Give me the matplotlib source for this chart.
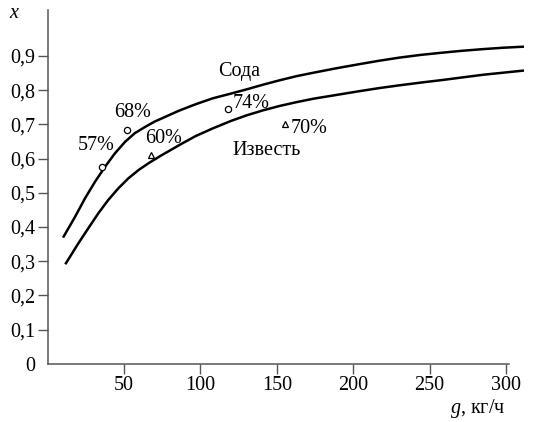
import numpy as np
import matplotlib.pyplot as plt

plt.rcParams['font.family'] = ['Liberation Serif', 'DejaVu Serif']
plt.rcParams['mathtext.fontset'] = 'custom'
plt.rcParams['mathtext.it'] = 'Liberation Serif:italic'
plt.rcParams['mathtext.rm'] = 'Liberation Serif'

# curves: g (kg/h) -> x
soda_g = [10.5, 18, 24.5, 31, 37.6, 44, 50.7, 57, 64, 70, 77, 86, 97, 108, 120, 130,
          141, 152, 163, 174, 189, 204, 217, 230, 244, 257, 271, 285, 298, 311]
soda_x = [0.372, 0.430, 0.484, 0.532, 0.576, 0.615, 0.649, 0.674, 0.693, 0.708,
          0.722, 0.740, 0.759, 0.776, 0.790, 0.802, 0.816, 0.829, 0.841, 0.851, 0.864,
          0.876, 0.886, 0.895, 0.903, 0.909, 0.915, 0.920, 0.924, 0.927]
lime_g = [12, 20.1, 26.6, 33.2, 39.7, 46.3, 52.8, 59.4, 65.9, 74.7, 88, 97, 108,
          120, 130, 141, 152, 163, 174, 189, 204, 217, 230, 244, 259, 271, 285, 298, 311]
lime_x = [0.294, 0.352, 0.396, 0.440, 0.479, 0.513, 0.542, 0.566, 0.586, 0.610,
          0.644, 0.666, 0.688, 0.710, 0.726, 0.741, 0.754, 0.765, 0.775, 0.786, 0.797,
          0.806, 0.814, 0.822, 0.830, 0.837, 0.845, 0.851, 0.857]

# experimental points
circ_g = [35.6, 51.8, 118.3]
circ_x = [0.575, 0.683, 0.744]
tri_g = [67.7, 155.4]
tri_x = [0.610, 0.700]

# point labels (text, g, x)
labels = [("57%", 31.7, 0.639), ("68%", 55.9, 0.736), ("60%", 76.2, 0.660),
          ("74%", 133.4, 0.762), ("70%", 171.0, 0.689),
          ("Сода", 125.3, 0.856), ("Известь", 143.6, 0.625)]

xticks = [50, 100, 150, 200, 250, 300]
yticks = [0, 0.1, 0.2, 0.3, 0.4, 0.5, 0.6, 0.7, 0.8, 0.9]
ytick_labels = ["0", "0,1", "0,2", "0,3", "0,4", "0,5", "0,6", "0,7", "0,8", "0,9"]

fig = plt.figure(figsize=(5.43, 4.22), dpi=100)
ax = fig.add_axes([0.0877, 0.138, 0.8497, 0.838])

ax.plot(soda_g, soda_x, color='black', lw=1.8, clip_on=False)
ax.plot(lime_g, lime_x, color='black', lw=1.8, clip_on=False)
ax.plot(circ_g, circ_x, 'o', mfc='white', mec='black', ms=4.5, mew=0.9, clip_on=False)
ax.plot(tri_g, tri_x, '^', mfc='white', mec='black', ms=4.5, mew=0.9, clip_on=False)

for txt, gx, xx in labels:
    ax.text(gx, xx, txt, ha='center', va='center', fontsize=14.5, clip_on=False)

ax.set_xlim(0, 302)
ax.set_ylim(0, 1.034)
ax.set_xticks(xticks)
ax.set_xticklabels([str(t) for t in xticks])
ax.set_yticks(yticks)
ax.set_yticklabels(ytick_labels)

for s in ['top', 'right']:
    ax.spines[s].set_visible(False)
for s in ['left', 'bottom']:
    ax.spines[s].set_color('#555555')
    ax.spines[s].set_linewidth(1.1)
ax.tick_params(axis='both', colors='#555555', labelcolor='black', labelsize=14.5,
               length=7, width=1.0, direction='out', pad=2)
# no tick mark at zero on the y axis
ax.yaxis.get_major_ticks()[0].tick1line.set_visible(False)

fig.text(15 / 543, 1 - 14 / 422, r'$x$', ha='center', va='center', fontsize=14.5)
fig.text(478 / 543, 1 - 409 / 422, r'$g$, кг/ч', ha='center', va='center', fontsize=14.5)

fig.savefig('out.png', dpi=100)
